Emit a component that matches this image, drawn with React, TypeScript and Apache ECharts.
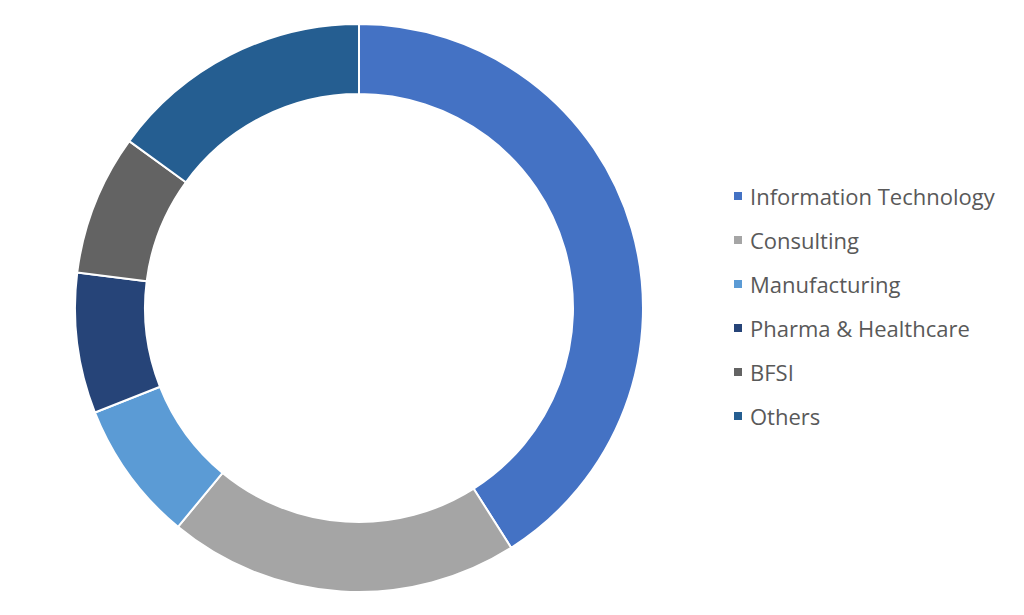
import React, { useEffect, useRef } from "react";
import * as echarts from "echarts";

const categories = [
  "Information Technology",
  "Consulting",
  "Manufacturing",
  "Pharma & Healthcare",
  "BFSI",
  "Others",
];
const values = [41, 20, 8, 8, 8, 15];
const colors = ["#4472C4", "#A5A5A5", "#5B9BD5", "#264478", "#636363", "#255E91"];

export default function App() {
  const ref = useRef<HTMLDivElement>(null);
  useEffect(() => {
    if (!ref.current) return;
    const chart = echarts.init(ref.current, undefined, { renderer: "svg" });
    chart.setOption({
      animation: false,
      backgroundColor: "#ffffff",
      color: colors,
      legend: {
        orient: "vertical",
        left: 727,
        top: 179,
        itemWidth: 10,
        itemHeight: 10,
        itemGap: 20,
        icon: "rect",
        textStyle: {
          fontFamily: "Open Sans",
          fontSize: 22,
          color: "#595959",
          lineHeight: 24,
          padding: [0, 0, 0, 2],
        },
        data: categories,
      },
      series: [
        {
          type: "pie",
          center: [359, 308],
          radius: [214, 284],
          startAngle: 90,
          clockwise: true,
          label: { show: false },
          labelLine: { show: false },
          emphasis: { disabled: true },
          itemStyle: { borderColor: "#ffffff", borderWidth: 2 },
          data: categories.map((name, i) => ({ name, value: values[i] })),
        },
      ],
    });
    return () => chart.dispose();
  }, []);
  return (
    <div
      ref={ref}
      style={{ position: "fixed", left: 0, top: 0, width: 1024, height: 615 }}
    />
  );
}
